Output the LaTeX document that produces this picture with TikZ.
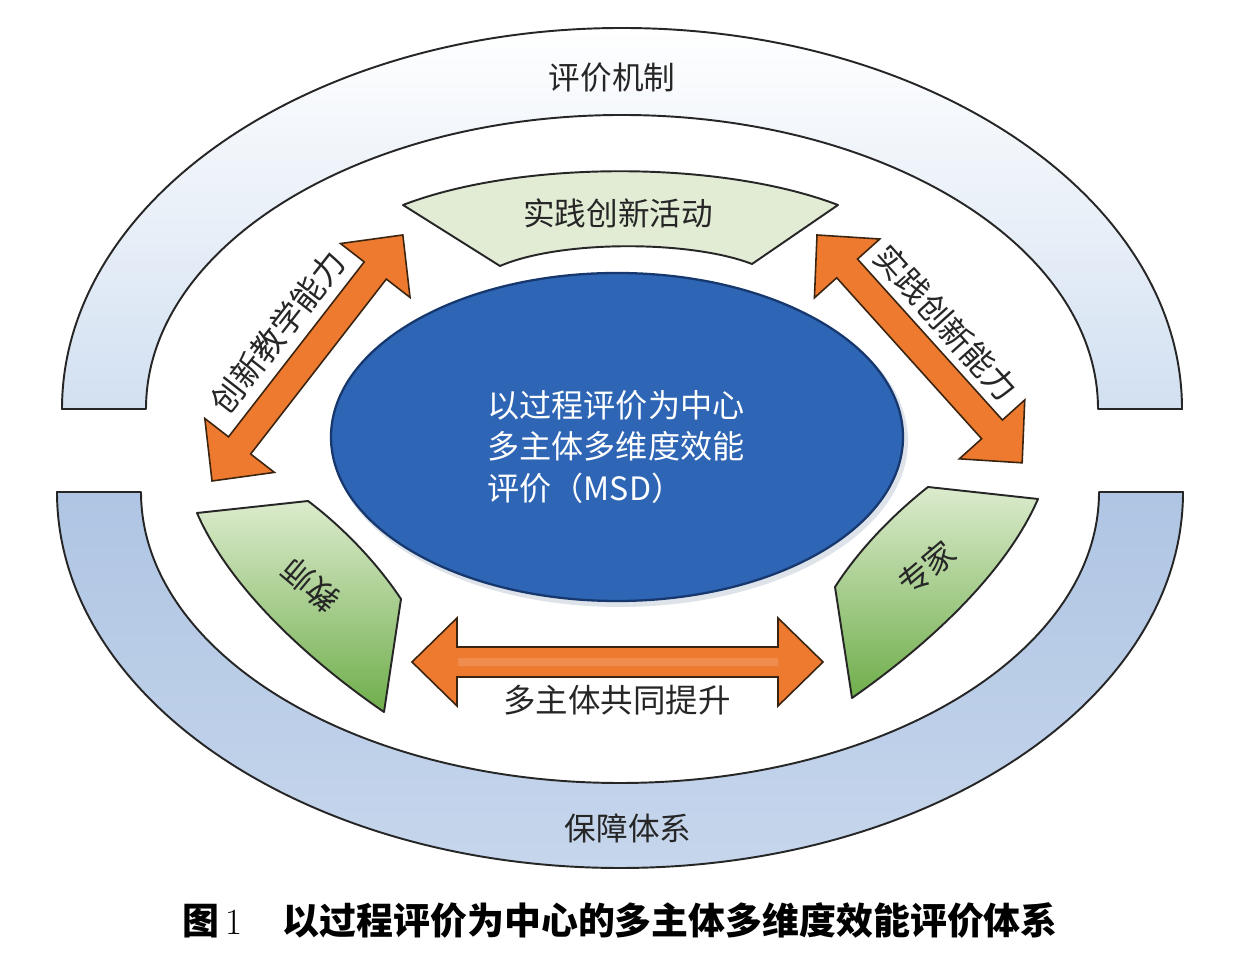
\documentclass[tikz,border=0pt]{standalone}
\usepackage{fontspec}
\newfontfamily\cjk{Noto Sans CJK SC}
\usetikzlibrary{calc}
\definecolor{bandtop}{HTML}{D2E0F1}
\definecolor{bandbotA}{HTML}{AFC5E3}
\definecolor{bandbotB}{HTML}{C6D6EC}
\definecolor{greenpale}{HTML}{E2ECD5}
\definecolor{greenlight}{HTML}{DCEBCD}
\definecolor{greendark}{HTML}{6FAE4B}
\definecolor{coreblue}{HTML}{2E65B4}
\definecolor{coreedge}{HTML}{16386E}
\definecolor{orangefill}{HTML}{EE7A2F}
\definecolor{arrowedge}{HTML}{3A2410}
\newcommand{\dblarrow}[4]{%
  \draw[orangearrow, shift={(#1)}, rotate=#2]
    (0,0) -- (45,44) -- (45,#4) -- ({#3-45},#4) -- ({#3-45},44) -- (#3,0)
    -- ({#3-45},-44) -- ({#3-45},-#4) -- (45,-#4) -- (45,-44) -- cycle;}
\tikzset{
  outline/.style={draw=black!85, line width=1.1pt, line join=round},
  topband/.style={outline, top color=white, bottom color=bandtop},
  botband/.style={outline, top color=bandbotA, bottom color=bandbotB},
  sector/.style={outline, fill=greenpale},
  sidebox/.style={outline, top color=greenlight, bottom color=greendark},
  core/.style={draw=coreedge, line width=1.3pt, fill=coreblue},
  orangearrow/.style={draw=arrowedge, line width=0.9pt, fill=orangefill, line join=miter},
  lbl/.style={font=\cjk\fontsize{18}{22}\selectfont, text=black!85, inner sep=0pt},
  arrlbl/.style={font=\cjk\fontsize{18.5}{22}\selectfont, text=black!85, inner sep=0pt},
  centertxt/.style={font=\cjk\fontsize{18.3}{23.8}\selectfont, text=white, inner sep=0pt, align=left},
  captiontxt/.style={font=\cjk\bfseries\fontsize{21}{24}\selectfont, text=black, inner sep=0pt}
}
\begin{document}
\begin{tikzpicture}[x=0.02cm, y=0.02cm]
\useasboundingbox (0,0) rectangle (1248,956);
\fill[white] (0,0) rectangle (1248,956);

% outer bands
\draw[topband] (62,547) arc[start angle=180, end angle=0, x radius=560, y radius=381]
  -- (1098,547) arc[start angle=0, end angle=180, x radius=476, y radius=294] -- cycle;
\draw[botband] (57,464) arc[start angle=180, end angle=360, x radius=563, y radius=376]
  -- (1099,464) arc[start angle=360, end angle=180, x radius=479, y radius=291] -- cycle;
\node[lbl] (mech) at (612,878) {评价机制};
\node[lbl] (guar) at (628,128) {保障体系};

% top sector
\draw[sector] (403,751) .. controls (520,796) and (720,796) .. (838,751)
  -- (752,692) .. controls (690,716) and (560,716) .. (500,690) -- cycle;
\node[lbl] (act) at (618,743) {实践创新活动};

% left side box (teachers)
\draw[sidebox] (197,443) -- (308,455) .. controls (340,431) and (375,396) .. (401,357)
  -- (384,244) .. controls (330,281) and (235,356) .. (197,443) -- cycle;
\node[lbl, rotate=140] (teach) at (311,371) {教师};

% right side box (experts)
\draw[sidebox] (928,469) -- (1038,457) .. controls (1000,370) and (905,295) .. (852,258)
  -- (835,369) .. controls (860,408) and (895,443) .. (928,469) -- cycle;
\node[lbl, rotate=40] (expert) at (927,388) {专家};

% central ellipse
\fill[coreedge!40, opacity=0.35] (620,515) ellipse [x radius=288, y radius=166];
\draw[core] (617,519) ellipse [x radius=286, y radius=164];
\node[centertxt, anchor=west] (ctext) at (487,509) {以过程评价为中心\\多主体多维度效能\\评价（MSD）};

% arrows
\coordinate (la) at (212,475);
\coordinate (lb) at (403,721);
\coordinate (ra) at (817,721);
\coordinate (rb) at (1022,493);
\coordinate (ha) at (412,294);
\coordinate (hb) at (823,294);
\dblarrow{la}{52.2}{311.4}{14}
\dblarrow{ra}{-48.0}{306.6}{14}
\dblarrow{ha}{0}{411}{15}
\fill[orangefill!50!white, opacity=0.3] (458,290) rectangle (778,298);

\node[arrlbl, rotate=52] (lcap) at (278,624) {创新教学能力};
\node[arrlbl, rotate=-48] (rcap) at (946,633) {实践创新能力};
\node[arrlbl] (hcap) at (617,256) {多主体共同提升};

% caption
\node[captiontxt] (cap) at (620,36) {图\,{\normalfont\fontsize{21}{24}\selectfont 1}\hspace{1.1em}以过程评价为中心的多主体多维度效能评价体系};
\end{tikzpicture}
\end{document}
